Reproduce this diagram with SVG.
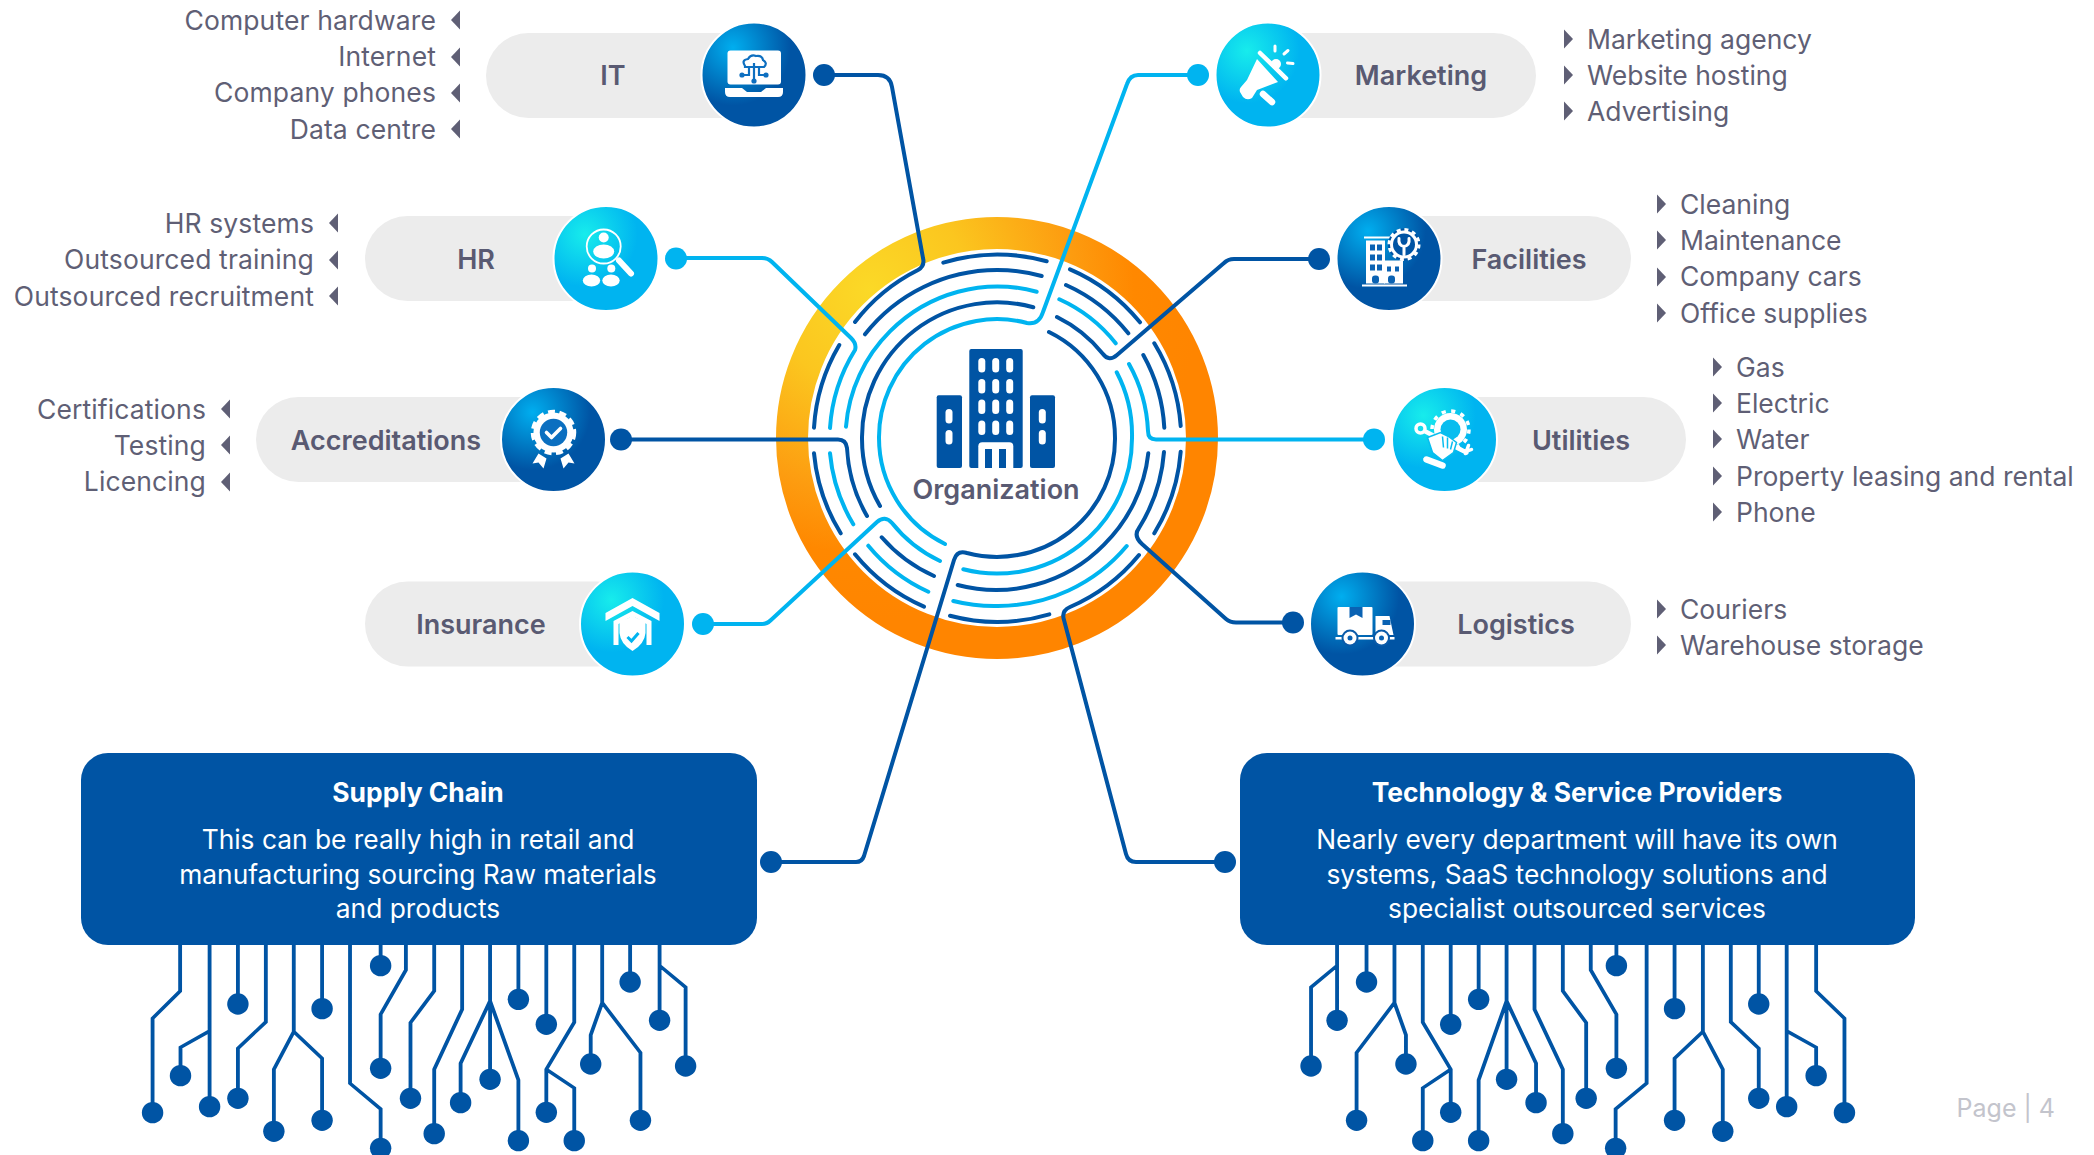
<svg xmlns="http://www.w3.org/2000/svg" width="2094" height="1155" viewBox="0 0 2094 1155">
<style>
text{font-family:"Inter","Liberation Sans",sans-serif}
.li{font-size:26.5px;fill:#5f5f75;transform:translateY(.7px)}
.end{text-anchor:end;letter-spacing:.12px}
.lab{font-size:27px;font-weight:600;fill:#595a72;text-anchor:middle}
.pill{fill:#ececec}
.ttl{font-size:26.4px;font-weight:700;fill:#fff;text-anchor:middle}
.bd{font-size:26.35px;fill:#fff;text-anchor:middle}
.box{fill:#0054a4}
.badge{stroke:#fff;stroke-width:2}
.d{fill:none;stroke:#0054a4;stroke-width:4;stroke-linecap:round;stroke-linejoin:round}
.l{fill:none;stroke:#00b4f0;stroke-width:4;stroke-linecap:round;stroke-linejoin:round}
.dd{fill:#0054a4}
.ld{fill:#00b4f0}
.cir{fill:none;stroke:#0054a4;stroke-width:10}
.cir ellipse{fill:#0054a4;stroke:none;rx:28px;ry:32px}
.w{fill:#fff}
.ws{fill:none;stroke:#fff;stroke-linecap:round;stroke-linejoin:round}
.tri{fill:#5f5f75}
</style>
<defs>
<radialGradient id="gd" cx="0.3" cy="0.24" r="0.55"><stop offset="0" stop-color="#00aeef"/><stop offset="1" stop-color="#0054a4"/></radialGradient>
<radialGradient id="gl" cx="0.3" cy="0.27" r="0.5"><stop offset="0" stop-color="#17ecec"/><stop offset="1" stop-color="#00b4f0"/></radialGradient>
<radialGradient id="gr" gradientUnits="userSpaceOnUse" cx="870" cy="290" r="330"><stop offset="0" stop-color="#fbd927"/><stop offset="0.3" stop-color="#fbc61f"/><stop offset="0.62" stop-color="#fd9c10"/><stop offset="0.8" stop-color="#ff8800"/><stop offset="1" stop-color="#ff8500"/></radialGradient>
<path id="tl" d="M9 -9.500V9.500L0 0Z"/>
<path id="tr" d="M0 -9.500V9.500L9 0Z"/>
</defs>
<rect width="2094" height="1155" fill="#fff"/>

<g id="hub">
<circle cx="997" cy="438" r="205" fill="none" stroke="url(#gr)" stroke-width="32"/>
<g id="ring-arcs">
<path class="d" d="M943.300 262.700A184 184 0 0 1 1046.700 261.300M814 427.700A184 184 0 0 1 839.300 345M814 453.300A184 184 0 0 0 840.700 533.300M855 554.300A184 184 0 0 0 924 606.700M950 615.700A184 184 0 0 0 1049.300 614.300M1180.700 451.700A184 184 0 0 1 1154.300 533.300M1180.700 426A184 184 0 0 0 1154.300 343.300M1070 269.300A184 184 0 0 1 1140 322.300"/>
<path class="d" d="M865 334.300A168 168 0 0 1 997 270A168 168 0 0 1 1041.700 276M1164.300 427.700A168 168 0 0 0 1143.300 355M1066 285A168 168 0 0 1 1128.300 333.300"/>
<path class="l" d="M830 453.300A168 168 0 0 0 853.300 524.300M868.300 545.700A168 168 0 0 0 928.300 591.700M953.300 601A168 168 0 0 0 997 606A168 168 0 0 0 1126.700 546"/>
<path class="l" d="M846 426.700A151 151 0 0 1 890.200 331.200A151 151 0 0 1 1036.700 291.700M1059.300 299.300A151 151 0 0 1 1115.700 343.300"/>
<path class="d" d="M881.700 537.300A151 151 0 0 0 934 576M957.700 585A151 151 0 0 0 1103.800 544.800A151 151 0 0 0 1148.300 453.300"/>
<path class="d" d="M880 506A135 135 0 0 1 862 438A135 135 0 0 1 1033.300 307.300"/>
<path class="l" d="M963.300 569.300A135 135 0 0 0 1132 438A135 135 0 0 0 1116.700 372.300"/>
</g>
<g id="org-icon">
<rect class="dd" x="969.300" y="349" width="53.400" height="119" rx="2"/>
<rect class="dd" x="936.700" y="395.300" width="25.300" height="72.700" rx="2"/>
<rect class="dd" x="1030" y="395.300" width="25" height="72.700" rx="2"/>
<g class="w">
<rect x="978.300" y="358" width="7" height="14.500" rx="3.500"/><rect x="992.200" y="358" width="7" height="14.500" rx="3.500"/><rect x="1006.200" y="358" width="7" height="14.500" rx="3.500"/>
<rect x="978.300" y="379" width="7" height="14.500" rx="3.500"/><rect x="992.200" y="379" width="7" height="14.500" rx="3.500"/><rect x="1006.200" y="379" width="7" height="14.500" rx="3.500"/>
<rect x="978.300" y="399.500" width="7" height="14.500" rx="3.500"/><rect x="992.200" y="399.500" width="7" height="14.500" rx="3.500"/><rect x="1006.200" y="399.500" width="7" height="14.500" rx="3.500"/>
<rect x="978.300" y="420.500" width="7" height="14.500" rx="3.500"/><rect x="992.200" y="420.500" width="7" height="14.500" rx="3.500"/><rect x="1006.200" y="420.500" width="7" height="14.500" rx="3.500"/>
<rect x="945.500" y="409" width="7" height="14.500" rx="3.500"/><rect x="945.500" y="430" width="7" height="14.500" rx="3.500"/>
<rect x="1038.800" y="409" width="7" height="14.500" rx="3.500"/><rect x="1038.800" y="430" width="7" height="14.500" rx="3.500"/>
<path d="M978.300 468V446.300Q978.300 442.300 982.300 442.300H1009.300Q1013.300 442.300 1013.300 446.300V468Z"/>
</g>
<rect class="dd" x="985" y="449" width="7" height="19"/><rect class="dd" x="999" y="449" width="7" height="19"/>
</g>
<text x="996" y="499" text-anchor="middle" style="font-size:27px;font-weight:600;fill:#595a72">Organization</text>
</g>

<g id="connectors">
<path class="d" d="M824 75H878Q890 75 892 87L923 258Q925 266 918 270A184 184 0 0 0 855 322"/>
<path class="l" d="M676 258H762Q768 258 772 262L851 338Q857 344 855 350A168 168 0 0 0 830 428"/>
<path class="d" d="M621 439.500H838Q846 439.500 847 448A151 151 0 0 0 867 516"/>
<path class="l" d="M703 624H762Q767 624 771 620L877 522Q885 515 892 523A135 135 0 0 0 940 561"/>
<path class="l" d="M1198 75H1138Q1130 75 1127 84L1043 312Q1039 325 1027 323A118 118 0 0 0 879 438A118 118 0 0 0 945 544"/>
<path class="d" d="M1319 259H1234Q1228 259 1224 263L1117 355Q1109 362 1103 354A135 135 0 0 0 1057 317"/>
<path class="l" d="M1374 439.500H1156Q1148 439.500 1148 431A151 151 0 0 0 1129 364"/>
<path class="d" d="M1293 622.500H1236Q1230 622.500 1226 619L1142 544Q1133 536 1139 528A168 168 0 0 0 1164 452"/>
<path class="d" d="M1225 862H1136Q1128 862 1126 854L1064 620Q1061 611 1070 607A184 184 0 0 0 1139 555"/>
<path class="d" d="M771 862H856Q862 862 864 856L954 560Q957 550 967 553A118 118 0 0 0 1115 438A118 118 0 0 0 1049 332"/>
<circle class="dd" cx="824" cy="75" r="11"/><circle class="ld" cx="676" cy="258.500" r="11"/><circle class="dd" cx="621" cy="439.500" r="11"/><circle class="ld" cx="703" cy="624" r="11"/>
<circle class="ld" cx="1198" cy="75" r="11"/><circle class="dd" cx="1319" cy="259" r="11"/><circle class="ld" cx="1374" cy="439.500" r="11"/><circle class="dd" cx="1293" cy="622.500" r="11"/>
<circle class="dd" cx="771" cy="862" r="11"/><circle class="dd" cx="1225" cy="862" r="11"/>
</g>

<g id="it">
<rect class="pill" x="486" y="33" width="280" height="85" rx="42.500"/>
<text class="lab" x="613" y="84.500">IT</text>
<circle class="badge" cx="754" cy="75" r="52.500" fill="url(#gd)"/>
<g transform="translate(754 75)">
<rect class="w" x="-26.500" y="-24.500" width="53.500" height="34" rx="3"/>
<path class="w" d="M-29 13H-12L-7 17H7L12 13H29V17Q29 22 24 22H-24Q-29 22 -29 17Z"/>
<path d="M-9 -9Q-13 -15 -6 -16Q-3 -21 2 -19Q8 -20 9 -15Q14 -12 10 -8H-9ZM0 -12V6M-13 0H-5V-8M13 0H5V-8" fill="none" stroke="#0d6fc0" stroke-width="2.200"/>
<circle cx="-12" cy="0" r="2.600" fill="#0d6fc0"/><circle cx="12" cy="0" r="2.600" fill="#0d6fc0"/><circle cx="0" cy="6" r="2.600" fill="#0d6fc0"/>
</g>
</g>
<g id="it-list">
<text class="li end" x="436" y="29">Computer hardware</text><text class="li end" x="436" y="65">Internet</text><text class="li end" x="436" y="101">Company phones</text><text class="li end" x="436" y="138">Data centre</text>
<use href="#tl" class="tri" x="451" y="20"/><use href="#tl" class="tri" x="451" y="57"/><use href="#tl" class="tri" x="451" y="93"/><use href="#tl" class="tri" x="451" y="129"/>
</g>

<g id="hr">
<rect class="pill" x="365" y="216" width="250" height="85" rx="42.500"/>
<text class="lab" x="476" y="268.500">HR</text>
<circle class="badge" cx="606" cy="258.500" r="52.500" fill="url(#gl)"/>
<g transform="translate(606 258.500)">
<circle class="ws" cx="-2.300" cy="-12" r="17" stroke-width="1.800"/>
<circle class="w" cx="-2.300" cy="-21" r="5"/><ellipse class="w" cx="-2.300" cy="-7" rx="10.500" ry="7"/>
<path class="ws" d="M13 2L25 15" stroke-width="6"/>
<circle class="w" cx="-14" cy="10" r="4"/><circle class="w" cx="5.300" cy="10" r="4"/>
<ellipse class="w" cx="-14.500" cy="22" rx="8.700" ry="6"/><ellipse class="w" cx="5" cy="22" rx="8.700" ry="6"/>
</g>
</g>
<g id="hr-list">
<text class="li end" x="314" y="232">HR systems</text><text class="li end" x="314" y="268">Outsourced training</text><text class="li end" x="314" y="305">Outsourced recruitment</text>
<use href="#tl" class="tri" x="329" y="223"/><use href="#tl" class="tri" x="329" y="260"/><use href="#tl" class="tri" x="329" y="296"/>
</g>

<g id="accreditations">
<rect class="pill" x="256" y="397" width="310" height="85" rx="42.500"/>
<text class="lab" x="386" y="449.500">Accreditations</text>
<circle class="badge" cx="553.500" cy="439.500" r="52.500" fill="url(#gd)"/>
<g transform="translate(553.500 439.500)">
<circle class="w" cx="0" cy="-7" r="20"/>
<circle cx="0" cy="-7" r="21" fill="none" stroke="#fff" stroke-width="3.500" stroke-dasharray="7 4.600"/>
<circle cx="0" cy="-7" r="13.700" fill="#0b6fc0"/>
<path class="ws" d="M-7 -7L-2 -2L7 -11" stroke-width="3.600"/>
<path class="w" d="M-15 14L-21 24L-15 23L-10 29L-7 19Z"/><path class="w" d="M15 14L21 24L15 23L10 29L7 19Z"/>
</g>
</g>
<g id="accreditations-list">
<text class="li end" x="206" y="418">Certifications</text><text class="li end" x="206" y="454">Testing</text><text class="li end" x="206" y="490">Licencing</text>
<use href="#tl" class="tri" x="221" y="409"/><use href="#tl" class="tri" x="221" y="445"/><use href="#tl" class="tri" x="221" y="482"/>
</g>

<g id="insurance">
<rect class="pill" x="365" y="581.500" width="275" height="85" rx="42.500"/>
<text class="lab" x="481" y="633.500">Insurance</text>
<circle class="badge" cx="632.500" cy="624" r="52.500" fill="url(#gl)"/>
<g transform="translate(632.500 624)">
<path class="w" d="M-27 -11L0 -26L27 -11V-3L0 -18L-27 -3Z"/>
<path class="w" d="M-19 21V-3L0 -13L19 -3V21H14V0L0 -8L-14 0V21Z"/>
<path class="w" d="M-13 -4Q-6 -3 0 -9Q6 -3 13 -4V9Q12 20 0 27Q-12 20 -13 9Z"/>
<path d="M-5 13L-1 17L6 9" fill="none" stroke="#00b4f0" stroke-width="3"/>
</g>
</g>

<g id="marketing">
<rect class="pill" x="1260" y="33" width="276" height="85" rx="42.500"/>
<text class="lab" x="1421" y="84.500">Marketing</text>
<circle class="badge" cx="1268" cy="75" r="52.500" fill="url(#gl)"/>
<g transform="translate(1268 75)">
<path class="ws" d="M-8 -22L18 3.300" stroke-width="4.500"/>
<path class="w" d="M-11 -16L10 7L-11 15L-16 23Q-21 26 -25 22L-28 17Q-29 14 -27 12L-21 5Z"/>
<circle class="w" cx="8" cy="-11" r="5"/>
<path class="ws" d="M7 -29V-24M16 -21L20 -24.500M19.500 -12L25 -11.500" stroke-width="3"/>
<path class="ws" d="M-5 19L4 27" stroke-width="6.500"/>
</g>
</g>
<g id="marketing-list">
<use href="#tr" class="tri" x="1564" y="39"/><use href="#tr" class="tri" x="1564" y="75"/><use href="#tr" class="tri" x="1564" y="111"/>
<text class="li" x="1587" y="48">Marketing agency</text><text class="li" x="1587" y="84">Website hosting</text><text class="li" x="1587" y="120">Advertising</text>
</g>

<g id="facilities">
<rect class="pill" x="1380" y="216" width="251" height="85" rx="42.500"/>
<text class="lab" x="1529" y="268.500">Facilities</text>
<circle class="badge" cx="1389" cy="258.500" r="52.500" fill="url(#gd)"/>
<g transform="translate(1389 258.500)">
<rect class="w" x="-25" y="-22" width="26" height="2"/>
<rect class="w" x="-23" y="-18" width="19" height="43"/>
<rect class="w" x="-5" y="2" width="19" height="23"/>
<rect class="w" x="-27" y="26" width="45" height="2"/>
<g fill="#0a62b3"><rect x="-19" y="-14" width="5" height="6"/><rect x="-12" y="-14" width="5" height="6"/><rect x="-19" y="-4" width="5" height="6"/><rect x="-12" y="-4" width="5" height="6"/><rect x="-19" y="6" width="5" height="6"/><rect x="-12" y="6" width="5" height="6"/><rect x="-2" y="8" width="4" height="5"/><rect x="6" y="8" width="4" height="5"/><rect x="-17" y="17" width="7" height="8" rx="3"/><rect x="-1" y="17" width="7" height="8" rx="3"/></g>
<circle cx="15" cy="-14" r="16" fill="#0054a4"/>
<circle cx="15" cy="-14" r="12.500" fill="none" stroke="#fff" stroke-width="3"/>
<circle cx="15" cy="-14" r="15" fill="none" stroke="#fff" stroke-width="3" stroke-dasharray="4 3.850"/>
<path class="ws" d="M15 -4V-12M10 -20Q9 -13 15 -12Q21 -13 20 -20" stroke-width="3"/>
</g>
</g>
<g id="facilities-list">
<use href="#tr" class="tri" x="1657" y="204"/><use href="#tr" class="tri" x="1657" y="240"/><use href="#tr" class="tri" x="1657" y="277"/><use href="#tr" class="tri" x="1657" y="313"/>
<text class="li" x="1680" y="213">Cleaning</text><text class="li" x="1680" y="249">Maintenance</text><text class="li" x="1680" y="285">Company cars</text><text class="li" x="1680" y="322">Office supplies</text>
</g>

<g id="utilities">
<rect class="pill" x="1436" y="397" width="250" height="85" rx="42.500"/>
<text class="lab" x="1581" y="449.500">Utilities</text>
<circle class="badge" cx="1444.500" cy="439.500" r="52.500" fill="url(#gl)"/>
<g transform="translate(1444.500 439.500)">
<circle cx="6" cy="-10" r="16.500" fill="#fff"/>
<circle cx="6" cy="-10" r="18.500" fill="none" stroke="#fff" stroke-width="3.500" stroke-dasharray="4.200 5.500"/>
<circle cx="6" cy="-10" r="10" fill="#08bdef"/>
<circle cx="-24" cy="-11" r="4.500" fill="none" stroke="#fff" stroke-width="3.500"/>
<path class="ws" d="M-19 -8L4 4L22 13" stroke-width="4.500"/>
<path d="M14 8Q19 14 27 10M21 14L24 6" class="ws" stroke-width="3.500"/>
<path d="M-17 -2L-4 -7L4 -3L12 3L9 13L-2 21L-12 13Z" fill="#fff" stroke="#08bdef" stroke-width="1.500"/>
<path d="M-2 -3L-1 8M3 -2L3 9M8 2L6 10" stroke="#08bdef" stroke-width="1.500" fill="none"/>
<path class="ws" d="M-18 20L-2 26" stroke-width="6.500"/>
</g>
</g>
<g id="utilities-list">
<use href="#tr" class="tri" x="1713" y="367"/><use href="#tr" class="tri" x="1713" y="403"/><use href="#tr" class="tri" x="1713" y="439"/><use href="#tr" class="tri" x="1713" y="476"/><use href="#tr" class="tri" x="1713" y="512"/>
<text class="li" x="1736" y="376">Gas</text><text class="li" x="1736" y="412">Electric</text><text class="li" x="1736" y="448">Water</text><text class="li" x="1736" y="485">Property leasing and rental</text><text class="li" x="1736" y="521">Phone</text>
</g>

<g id="logistics">
<rect class="pill" x="1355" y="581.500" width="276" height="85" rx="42.500"/>
<text class="lab" x="1516" y="633.500">Logistics</text>
<circle class="badge" cx="1362.500" cy="624" r="52.500" fill="url(#gd)"/>
<g transform="translate(1362.500 624)">
<rect class="w" x="-25" y="-17" width="35" height="28" rx="1"/>
<path d="M-13 -17H0V-6L-6.500 -9.500L-13 -6Z" fill="#0a62b3"/>
<path class="w" d="M13 -8H27L31 11H13Z"/>
<rect x="20" y="-4" width="8" height="5" fill="#0a62b3"/>
<rect class="w" x="-27" y="13" width="59" height="2.500"/>
<circle cx="-12.500" cy="14" r="8.500" fill="#0a5aa8"/><circle cx="-12.500" cy="14" r="6.500" fill="#fff"/><circle cx="-12.500" cy="14" r="2.500" fill="#0a62b3"/>
<circle cx="19" cy="14" r="8.500" fill="#0a5aa8"/><circle cx="19" cy="14" r="6.500" fill="#fff"/><circle cx="19" cy="14" r="2.500" fill="#0a62b3"/>
</g>
</g>
<g id="logistics-list">
<use href="#tr" class="tri" x="1657" y="609"/><use href="#tr" class="tri" x="1657" y="645"/>
<text class="li" x="1680" y="618">Couriers</text><text class="li" x="1680" y="654">Warehouse storage</text>
</g>

<g id="supply-chain">
<rect class="box" x="81" y="753" width="676" height="192" rx="27"/>
<text class="ttl" x="418" y="802">Supply Chain</text>
<text class="bd" x="418" y="849">This can be really high in retail and</text>
<text class="bd" x="418" y="884">manufacturing sourcing Raw materials</text>
<text class="bd" x="418" y="918">and products</text>
</g>
<g id="tech-providers">
<rect class="box" x="1240" y="753" width="675" height="192" rx="27"/>
<text class="ttl" x="1577" y="802">Technology &amp; Service Providers</text>
<text class="bd" x="1577" y="849">Nearly every department will have its own</text>
<text class="bd" x="1577" y="884">systems, SaaS technology solutions and</text>
<text class="bd" x="1577" y="918">specialist outsourced services</text>
</g>

<g id="circuit-left" class="cir" transform="translate(130 930) scale(0.38265 0.33333)">
<path d="M131 40V183L59 265V548M208 40V530M208 303L132 352V437M282 40V222M355 40V276L282 355V505M428 40V305L376 418V604M428 305L502 385V571M502 40V236M575 40V460L655 537V655M655 40V107M721 40V120L655 253V415M795 40V183L733 278V505M868 40V238L795 418V611M941 40V448M941 213L864 400V518M941 213L1015 450V632M1015 40V208M1088 40V283M1161 40V277L1088 418V547M1088 418L1161 474V632M1234 40V218L1204 315V402M1234 218L1334 368V571M1307 40V156M1384 40V271M1384 107L1452 172V408"/>
<ellipse cx="59" cy="548"/><ellipse cx="208" cy="530"/><ellipse cx="132" cy="437"/><ellipse cx="282" cy="222"/><ellipse cx="282" cy="505"/><ellipse cx="376" cy="604"/><ellipse cx="502" cy="571"/><ellipse cx="502" cy="236"/><ellipse cx="655" cy="655"/><ellipse cx="655" cy="107"/><ellipse cx="655" cy="415"/><ellipse cx="733" cy="505"/><ellipse cx="795" cy="611"/><ellipse cx="941" cy="448"/><ellipse cx="864" cy="518"/><ellipse cx="1015" cy="632"/><ellipse cx="1015" cy="208"/><ellipse cx="1088" cy="283"/><ellipse cx="1088" cy="547"/><ellipse cx="1161" cy="632"/><ellipse cx="1204" cy="402"/><ellipse cx="1334" cy="571"/><ellipse cx="1307" cy="156"/><ellipse cx="1384" cy="271"/><ellipse cx="1452" cy="408"/>
</g>
<g id="circuit-right" class="cir" transform="translate(1290 930) scale(0.38265 0.33333)">
<path d="M123 40V271M123 107L55 172V408M200 40V156M273 40V218L303 315V402M273 218L174 368V571M347 40V277L420 418V547M420 418L347 474V632M420 40V283M493 40V208M566 40V448M566 213L643 400V518M566 213L493 450V632M639 40V238L713 418V611M713 40V183L774 278V505M786 40V120L853 253V415M853 40V107M932 40V460L851 537V655M1005 40V236M1079 40V305L1005 385V571M1079 305L1131 418V604M1152 40V276L1225 355V505M1225 40V222M1298 40V530M1298 303L1375 352V437M1375 40V183L1449 265V548"/>
<ellipse cx="123" cy="271"/><ellipse cx="55" cy="408"/><ellipse cx="200" cy="156"/><ellipse cx="303" cy="402"/><ellipse cx="174" cy="571"/><ellipse cx="420" cy="547"/><ellipse cx="347" cy="632"/><ellipse cx="420" cy="283"/><ellipse cx="493" cy="208"/><ellipse cx="566" cy="448"/><ellipse cx="643" cy="518"/><ellipse cx="493" cy="632"/><ellipse cx="713" cy="611"/><ellipse cx="774" cy="505"/><ellipse cx="853" cy="415"/><ellipse cx="853" cy="107"/><ellipse cx="851" cy="655"/><ellipse cx="1005" cy="236"/><ellipse cx="1005" cy="571"/><ellipse cx="1131" cy="604"/><ellipse cx="1225" cy="505"/><ellipse cx="1225" cy="222"/><ellipse cx="1298" cy="530"/><ellipse cx="1375" cy="437"/><ellipse cx="1449" cy="548"/>
</g>
<text id="page" x="2055" y="1117" text-anchor="end" style="font-size:25px;fill:#c3c4cc">Page | 4</text>
</svg>
